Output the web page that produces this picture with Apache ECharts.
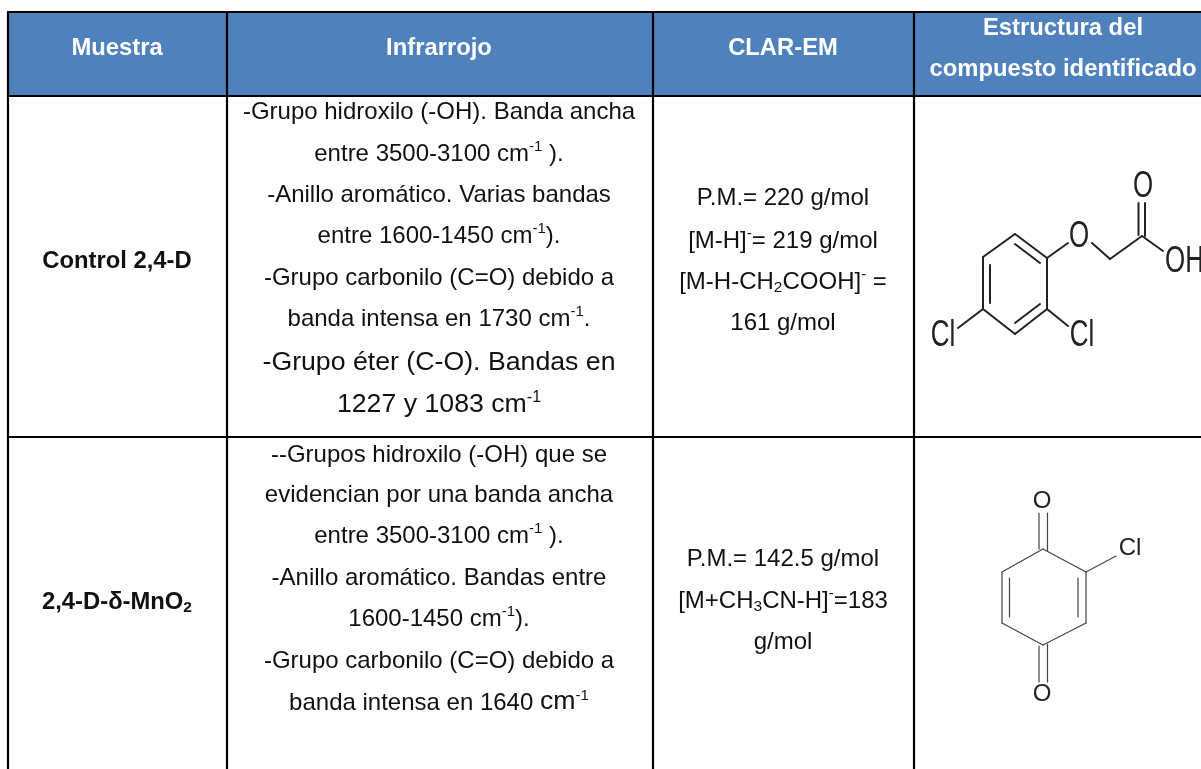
<!DOCTYPE html>
<html><head><meta charset="utf-8">
<style>html,body{margin:0;padding:0;background:#fff}#c{width:1201px;height:769px}</style>
<script src="https://cdn.jsdelivr.net/npm/echarts@6/dist/echarts.min.js"></script>
</head><body><div id="c"></div>
<script>
// ---- table content
const columnHeads = ['Muestra', 'Infrarrojo', 'CLAR-EM'];
const structureHead = ['Estructura del', 'compuesto identificado'];
const rowNames = ['{b|Control 2,4-D}', '{b|2,4-D-δ-MnO}{bs|2}'];
const irControl = [
  '{n|-Grupo hidroxilo (-OH). Banda ancha}',
  '{n|entre 3500-3100 cm}{s|-1}{n| ).}',
  '{n|-Anillo aromático. Varias bandas}',
  '{n|entre 1600-1450 cm}{s|-1}{n|).}',
  '{n|-Grupo carbonilo (C=O) debido a}',
  '{n|banda intensa en 1730 cm}{s|-1}{n|.}',
  '{l|-Grupo éter (C-O). Bandas en}',
  '{l|1227 y 1083 cm}{ls|-1}'
];
const irMno2 = [
  '{n|--Grupos hidroxilo (-OH) que se}',
  '{n|evidencian por una banda ancha}',
  '{n|entre 3500-3100 cm}{s|-1}{n| ).}',
  '{n|-Anillo aromático. Bandas entre}',
  '{n|1600-1450 cm}{s|-1}{n|).}',
  '{n|-Grupo carbonilo (C=O) debido a}',
  '{n|banda intensa en 1640 }{l|cm}{s|-1}'
];
const clarControl = [
  '{n|P.M.= 220 g/mol}',
  '{n|[M-H]}{s|-}{n|= 219 g/mol}',
  '{n|[M-H-CH}{u|2}{n|COOH]}{s|-}{n| =}',
  '{n|161 g/mol}'
];
const clarMno2 = [
  '{n|P.M.= 142.5 g/mol}',
  '{n|[M+CH}{u|3}{n|CN-H]}{s|-}{n|=183}',
  '{n|g/mol}'
];

// ---- layout (separate from the content)
const X = {left: 8, c1: 227, c2: 653, c3: 914, right: 1201};
const Y = {top: 12, head: 96, row: 437, bottom: 769};
const cx = {c0: 117, c1: 439, c2: 783, c3: 1063};
const irY1 = [111, 153, 194, 235, 277, 318, 363, 405];
const irY2 = [454, 494, 535, 577, 618, 660, 702];
const clarY1 = [197, 240, 281, 322];
const clarY2 = [558, 600, 641];

const rich = {
  n:{fontSize:24,lineHeight:30,padding:[0,0,2,0],verticalAlign:'bottom',fill:'#111'},
  l:{fontSize:26.7,lineHeight:30,padding:[0,0,2,0],verticalAlign:'bottom',fill:'#111'},
  s:{fontSize:15,lineHeight:30,verticalAlign:'top',fill:'#111',padding:[1,0,0,0]},
  ls:{fontSize:16,lineHeight:30,verticalAlign:'top',fill:'#111'},
  u:{fontSize:15.5,lineHeight:24,verticalAlign:'bottom',fill:'#111'},
  b:{fontSize:23.8,fontWeight:'bold',lineHeight:28,padding:[0,0,2,0],verticalAlign:'bottom',fill:'#111'},
  bs:{fontSize:15.5,fontWeight:'bold',lineHeight:24,verticalAlign:'bottom',fill:'#111'}
};
const texts = [];
const add = (x,y,t,o)=>texts.push(Object.assign({x,y,t},o||{}));
[columnHeads[0],columnHeads[1],columnHeads[2]].forEach((t,i)=>add([cx.c0,cx.c1,cx.c2][i],48,t,{head:1}));
add(cx.c3,28,structureHead[0],{head:1});
add(cx.c3,69,structureHead[1],{head:1});
add(cx.c0,261,rowNames[0]); add(cx.c0,602,rowNames[1]);
irControl.forEach((t,i)=>add(cx.c1,irY1[i],t));
irMno2.forEach((t,i)=>add(cx.c1,irY2[i],t));
clarControl.forEach((t,i)=>add(cx.c2,clarY1[i],t));
clarMno2.forEach((t,i)=>add(cx.c2,clarY2[i],t));

// ---- molecule drawings: bond end points, atoms
const bondsA = [
 [1015,234,1047,258],[1047,258,1047,309],[1047,309,1015,334],[1015,334,983,309],[983,309,983,257],[983,257,1015,234],
 [1015,244,1040,263],[990,265,990,303],[1015,323,1040,304],
 [1047,258,1068,243],[1092,243,1110,259],[1110,259,1142,236],
 [1138.5,203,1138.5,235],[1145,203,1145,236],[1142,236,1163,251],
 [983,309,958,328],[1047,309,1068,326]
];
const atomsA = [['O',1079,236.5,'center'],['O',1143,186.5,'center'],['OH',1165,261.5,'left'],['Cl',943,336,'center'],['Cl',1082,336,'center']];
const bondsB = [
 [1043,549,1086,572],[1086,572,1086,623],[1086,623,1043,645],[1043,645,1002,623],[1002,623,1002,572],[1002,572,1043,549],
 [1009.5,578,1009.5,617],[1078,578,1078,617],
 [1039,513,1039,549],[1047.5,513,1047.5,551],[1039,646,1039,682],[1047.5,644,1047.5,682],
 [1086,572,1116,556]
];
const atomsB = [['O',1042,501],['O',1042,694],['Cl',1130,548]];

const headCells = [[X.left,X.c1],[X.c1,X.c2],[X.c2,X.c3],[X.c3,X.right]];
const rules = [
 [X.left,Y.top,X.right,Y.top],[X.left,Y.head,X.right,Y.head],[X.left,Y.row,X.right,Y.row],
 [X.left,Y.top,X.left,Y.bottom],[X.c1,Y.top,X.c1,Y.bottom],[X.c2,Y.top,X.c2,Y.bottom],[X.c3,Y.top,X.c3,Y.bottom]
];

const lineSeries = (arr,width,color,z)=>({
  type:'custom',coordinateSystem:'cartesian2d',silent:true,z,clip:false,
  data:arr.map(b=>[b[0],b[1]]),
  renderItem:(p,api)=>{const b=arr[p.dataIndex];const a=api.coord([b[0],b[1]]),c=api.coord([b[2],b[3]]);
    return {type:'line',shape:{x1:a[0],y1:a[1],x2:c[0],y2:c[1]},style:{stroke:color,lineWidth:width,lineCap:'round'}};}
});
const atomSeries = (arr,size,scaleX,color)=>({
  type:'custom',coordinateSystem:'cartesian2d',silent:true,z:5,clip:false,
  data:arr.map(b=>[b[1],b[2]]),
  renderItem:(p,api)=>{const b=arr[p.dataIndex];const a=api.coord([b[1],b[2]]);
    return {type:'text',x:a[0],y:a[1],scaleX,style:{text:b[0],x:0,y:0,align:b[3]||'center',verticalAlign:'middle',
      font:size+'px "Liberation Sans"',fill:color}};}
});

const chart = echarts.init(document.getElementById('c'),null,{renderer:'canvas'});
chart.setOption({
  animation:false,
  backgroundColor:'#fff',
  grid:{left:0,right:0,top:0,bottom:0},
  xAxis:{type:'value',min:0,max:1201,show:false},
  yAxis:{type:'value',min:0,max:769,inverse:true,show:false},
  series:[
    {type:'custom',coordinateSystem:'cartesian2d',silent:true,z:1,clip:false,
     data:headCells.map(c=>[c[0],Y.top]),
     renderItem:(p,api)=>{const c=headCells[p.dataIndex];const a=api.coord([c[0],Y.top]),b=api.coord([c[1],Y.head]);
       return {type:'rect',shape:{x:a[0],y:a[1],width:b[0]-a[0],height:b[1]-a[1]},style:{fill:'#4f81bd'}};}},
    lineSeries(rules,2.2,'#000',2),
    lineSeries(bondsA,2,'#222',3),
    lineSeries(bondsB,1.2,'#444',3),
    atomSeries(atomsA,37,0.7,'#222'),
    atomSeries(atomsB,24,1,'#222'),
    {type:'custom',coordinateSystem:'cartesian2d',silent:true,z:6,clip:false,
     data:texts.map(t=>[t.x,t.y]),
     renderItem:(p,api)=>{const t=texts[p.dataIndex];const a=api.coord([t.x,t.y]);
       return {type:'text',x:a[0],y:a[1],style: t.head
         ? {text:t.t,align:'center',verticalAlign:'middle',font:'bold 23.8px "Liberation Sans"',fill:'#fff'}
         : {text:t.t,align:'center',verticalAlign:'middle',fontFamily:'"Liberation Sans"',rich}};}}
  ]
});
</script></body></html>
